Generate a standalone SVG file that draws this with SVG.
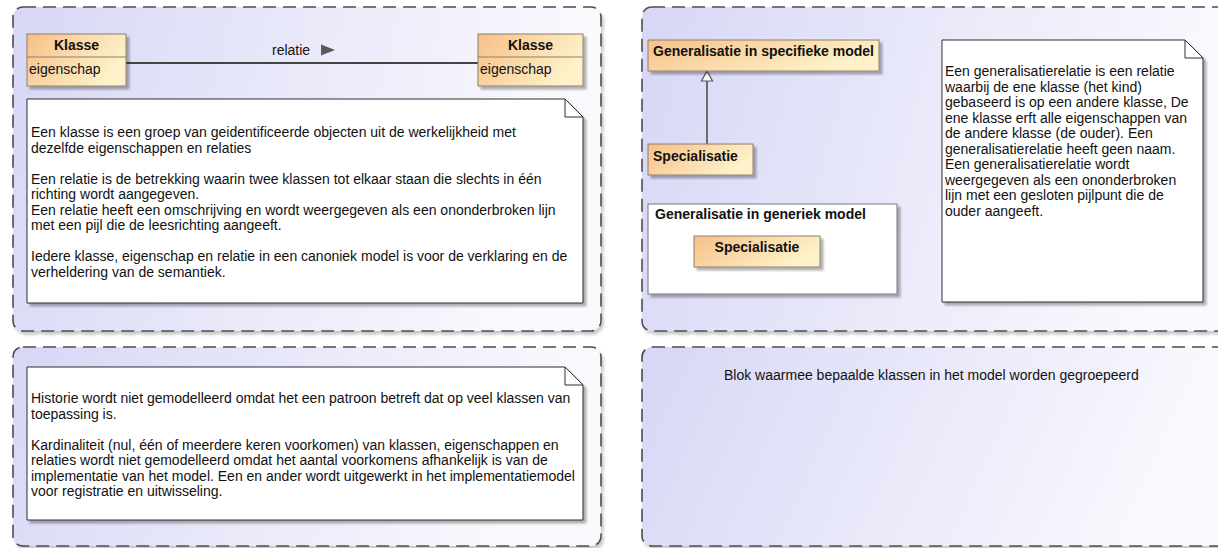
<svg xmlns="http://www.w3.org/2000/svg" width="1218" height="548" viewBox="0 0 1218 548">
<defs>
  <linearGradient id="panelGrad" x1="0" y1="0" x2="1" y2="0.15">
    <stop offset="0" stop-color="#d7d7f6"/>
    <stop offset="0.5" stop-color="#e9e9fa"/>
    <stop offset="1" stop-color="#fafafe"/>
  </linearGradient>
  <linearGradient id="classGrad" x1="0" y1="0" x2="1" y2="0.4">
    <stop offset="0" stop-color="#f7c088"/>
    <stop offset="1" stop-color="#fdf2c9"/>
  </linearGradient>
  <filter id="shadow" x="-5%" y="-5%" width="115%" height="120%">
    <feDropShadow dx="3" dy="3" stdDeviation="1.2" flood-color="#000" flood-opacity="0.3"/>
  </filter>
  <filter id="pshadow" x="-5%" y="-5%" width="115%" height="120%">
    <feDropShadow dx="2" dy="3" stdDeviation="1.5" flood-color="#000" flood-opacity="0.22"/>
  </filter>
</defs>
<style>
  .panel { fill: url(#panelGrad); stroke: #4d4d4d; stroke-width: 1.6; stroke-dasharray: 13 7; }
  .note { fill: #ffffff; stroke: #2e2e2e; stroke-width: 1; }
  .fold { fill: none; stroke: #2e2e2e; stroke-width: 1; }
  .cls { fill: url(#classGrad); stroke: #8e7f6a; stroke-width: 1; }
  .pkg { fill: #ffffff; stroke: #777777; stroke-width: 1; }
  .t { font-family: "Liberation Sans", Arial, sans-serif; font-size: 14px; fill: #111111; }
  .b { font-weight: bold; }
  .m { text-anchor: middle; }
  .conn { fill: none; stroke: #444444; stroke-width: 1.8; }
</style>

<!-- panels -->
<g id="panel-klasse">
  <rect class="panel" x="13" y="7" width="588" height="324" rx="10" filter="url(#pshadow)"/>
</g>
<g id="panel-historie">
  <rect class="panel" x="13" y="347" width="588" height="199" rx="10" filter="url(#pshadow)"/>
</g>
<g id="panel-generalisatie">
  <rect class="panel" x="642" y="7" width="600" height="324" rx="10" filter="url(#pshadow)"/>
</g>
<g id="panel-blok">
  <rect class="panel" x="642" y="347" width="600" height="199" rx="10" filter="url(#pshadow)"/>
  <text class="t" x="724" y="380">Blok waarmee bepaalde klassen in het model worden gegroepeerd</text>
</g>

<!-- connectors -->
<g id="connectors">
  <line class="conn" x1="126" y1="63" x2="478" y2="63"/>
  <line x1="707" y1="81" x2="707" y2="144" stroke="#444" stroke-width="1.5"/>
  <polygon points="707,71 701.5,81 712.5,81" fill="#ffffff" stroke="#555" stroke-width="1.2"/>
</g>
<g id="label-relatie">
  <text class="t" x="272" y="55">relatie</text>
  <polygon points="321,44.5 335,50 321,55.5" fill="#5a5a5a"/>
</g>

<!-- class nodes -->
<g id="klasse-links">
  <rect class="cls" x="27" y="34" width="99" height="52" filter="url(#shadow)"/>
  <line x1="27" y1="57" x2="126" y2="57" stroke="#8e7f6a" stroke-width="1"/>
  <text class="t b m" x="76.5" y="50">Klasse</text>
  <text class="t" x="29" y="74">eigenschap</text>
</g>
<g id="klasse-rechts">
  <rect class="cls" x="478" y="34" width="105" height="52" filter="url(#shadow)"/>
  <line x1="478" y1="57" x2="583" y2="57" stroke="#8e7f6a" stroke-width="1"/>
  <text class="t b m" x="530.5" y="50">Klasse</text>
  <text class="t" x="480" y="74">eigenschap</text>
</g>

<!-- note 1 -->
<g id="note-klasse">
  <path class="note" d="M27,99 H565 L583,117 V303 H27 Z" filter="url(#shadow)"/>
  <path class="fold" d="M565,99 V117 H583"/>
  <text class="t" x="31">
    <tspan x="31" y="137">Een klasse is een groep van geidentificeerde objecten uit de werkelijkheid met</tspan>
    <tspan x="31" y="152.5">dezelfde eigenschappen en relaties</tspan>
    <tspan x="31" y="183.5">Een relatie is de betrekking waarin twee klassen tot elkaar staan die slechts in één</tspan>
    <tspan x="31" y="199">richting wordt aangegeven.</tspan>
    <tspan x="31" y="214.5">Een relatie heeft een omschrijving en wordt weergegeven als een ononderbroken lijn</tspan>
    <tspan x="31" y="230">met een pijl die de leesrichting aangeeft.</tspan>
    <tspan x="31" y="261">Iedere klasse, eigenschap en relatie in een canoniek model is voor de verklaring en de</tspan>
    <tspan x="31" y="276.5">verheldering van de semantiek.</tspan>
  </text>
</g>

<!-- note 2 -->
<g id="note-historie">
  <path class="note" d="M27,367 H565 L583,385 V520 H27 Z" filter="url(#shadow)"/>
  <path class="fold" d="M565,367 V385 H583"/>
  <text class="t">
    <tspan x="31" y="403">Historie wordt niet gemodelleerd omdat het een patroon betreft dat op veel klassen van</tspan>
    <tspan x="31" y="418.5">toepassing is.</tspan>
    <tspan x="31" y="449.5">Kardinaliteit (nul, één of meerdere keren voorkomen) van klassen, eigenschappen en</tspan>
    <tspan x="31" y="465">relaties wordt niet gemodelleerd omdat het aantal voorkomens afhankelijk is van de</tspan>
    <tspan x="31" y="480.5">implementatie van het model. Een en ander wordt uitgewerkt in het implementatiemodel</tspan>
    <tspan x="31" y="496">voor registratie en uitwisseling.</tspan>
  </text>
</g>

<!-- generalisation nodes -->
<g id="generalisatie-specifiek">
  <rect class="cls" x="648" y="40" width="231" height="31" filter="url(#shadow)"/>
  <text class="t b m" x="763.5" y="56">Generalisatie in specifieke model</text>
</g>
<g id="specialisatie-1">
  <rect class="cls" x="648" y="144" width="105" height="31" filter="url(#shadow)"/>
  <text class="t b" x="653" y="161">Specialisatie</text>
</g>
<g id="generalisatie-generiek">
  <rect class="pkg" x="648" y="204" width="249" height="90" filter="url(#shadow)"/>
  <text class="t b" x="655" y="219">Generalisatie in generiek model</text>
</g>
<g id="specialisatie-2">
  <rect class="cls" x="694" y="236" width="126" height="31" filter="url(#shadow)"/>
  <text class="t b m" x="757" y="252">Specialisatie</text>
</g>

<!-- note 3 -->
<g id="note-generalisatie">
  <path class="note" d="M942,40 H1185 L1203,58 V302 H942 Z" filter="url(#shadow)"/>
  <path class="fold" d="M1185,40 V58 H1203"/>
  <text class="t">
    <tspan x="945" y="76">Een generalisatierelatie is een relatie</tspan>
    <tspan x="945" y="91.5">waarbij de ene klasse (het kind)</tspan>
    <tspan x="945" y="107">gebaseerd is op een andere klasse, De</tspan>
    <tspan x="945" y="122.5">ene klasse erft alle eigenschappen van</tspan>
    <tspan x="945" y="138">de andere klasse (de ouder). Een</tspan>
    <tspan x="945" y="153.5">generalisatierelatie heeft geen naam.</tspan>
    <tspan x="945" y="169">Een generalisatierelatie wordt</tspan>
    <tspan x="945" y="184.5">weergegeven als een ononderbroken</tspan>
    <tspan x="945" y="200">lijn met een gesloten pijlpunt die de</tspan>
    <tspan x="945" y="215.5">ouder aangeeft.</tspan>
  </text>
</g>
</svg>
